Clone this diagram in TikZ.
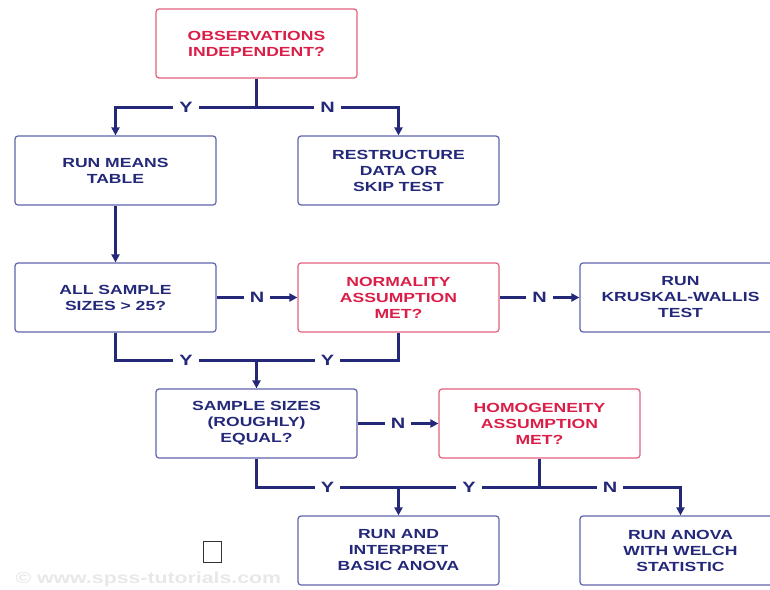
\documentclass[tikz,border=0pt]{standalone}
\usepackage{fontspec}
\setmainfont{Liberation Sans}[FakeStretch=1.33]
\usetikzlibrary{arrows.meta}
\definecolor{navy}{RGB}{36,40,120}
\definecolor{boxblue}{RGB}{95,100,170}
\definecolor{crimson}{RGB}{218,30,72}
\definecolor{boxred}{RGB}{228,95,125}
\definecolor{wmark}{RGB}{232,232,232}

\begin{document}
\begin{tikzpicture}[x=1pt,y=-1pt,>={Triangle[length=8pt,width=8pt]},
  box/.style={draw=boxblue,text=navy,line width=1.2pt,rounded corners=3pt,
    minimum width=201pt,minimum height=69pt,align=center,
    font=\bfseries\fontsize{13.2}{16}\selectfont},
  redbox/.style={box,draw=boxred,text=crimson},
  yn/.style={fill=white,text=navy,inner xsep=6pt,inner ysep=2pt,
    font=\bfseries\fontsize{15}{15}\selectfont},
  flow/.style={draw=navy,line width=2.2pt}]
  \useasboundingbox (0,0) rectangle (770,589);
  % boxes
  \node[redbox] (obs) at (256.5,43.5) {OBSERVATIONS\\INDEPENDENT?};
  \node[box] (means) at (115.5,170.5) {RUN MEANS\\TABLE};
  \node[box] (restr) at (398.5,170.5) {RESTRUCTURE\\DATA OR\\SKIP TEST};
  \node[box] (allsz) at (115.5,297.5) {ALL SAMPLE\\SIZES > 25?};
  \node[redbox] (normal) at (398.5,297.5) {NORMALITY\\ASSUMPTION\\MET?};
  \node[box] (kw) at (680.5,297.5) {RUN\\KRUSKAL-WALLIS\\TEST};
  \node[box] (sampsz) at (256.5,423.5) {SAMPLE SIZES\\(ROUGHLY)\\EQUAL?};
  \node[redbox] (homog) at (539.5,423.5) {HOMOGENEITY\\ASSUMPTION\\MET?};
  \node[box] (basic) at (398.5,550.5) {RUN AND\\INTERPRET\\BASIC ANOVA};
  \node[box] (welch) at (680.5,550.5) {RUN ANOVA\\WITH WELCH\\STATISTIC};
  % junctions
  \coordinate (j1) at (256.5,107.5);
  \coordinate (j2) at (256.5,360.5);
  \coordinate (j3) at (398.5,487.5);
  \coordinate (j4) at (539.5,487.5);
  % connectors
  \draw[flow] (obs.south) -- (j1);
  \draw[flow,->] (j1) -| node[yn,pos=0.25]{Y} (means.north);
  \draw[flow,->] (j1) -| node[yn,pos=0.25]{N} (restr.north);
  \draw[flow,->] (means.south) -- (allsz.north);
  \draw[flow,->] (allsz.east) -- node[yn]{N} (normal.west);
  \draw[flow,->] (normal.east) -- node[yn]{N} (kw.west);
  \draw[flow] (allsz.south) |- node[yn,pos=0.75]{Y} (j2);
  \draw[flow] (normal.south) |- node[yn,pos=0.75]{Y} (j2);
  \draw[flow,->] (j2) -- (sampsz.north);
  \draw[flow,->] (sampsz.east) -- node[yn]{N} (homog.west);
  \draw[flow] (sampsz.south) |- node[yn,pos=0.75]{Y} (j3);
  \draw[flow] (j3) -- node[yn]{Y} (j4);
  \draw[flow] (homog.south) -- (j4);
  \draw[flow,->] (j3) -- (basic.north);
  \draw[flow,->] (j4) -| node[yn,pos=0.25]{N} (welch.north);
  % stray glyph box and watermark
  \draw[line width=1pt,black!80] (203,541) rectangle (221,562);
  \node[text=wmark,anchor=west,font=\bfseries\fontsize{16}{16}\selectfont] (wm) at (12,579) {© www.spss-tutorials.com};
\end{tikzpicture}
\end{document}
